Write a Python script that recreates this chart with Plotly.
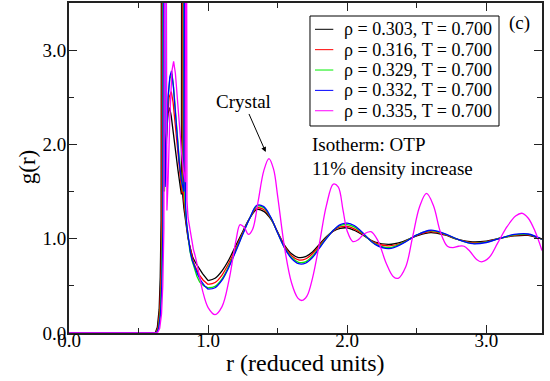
import plotly.graph_objects as go

# ---------------- data ----------------
labels = ["ρ = 0.303, T = 0.700", "ρ = 0.316, T = 0.700", "ρ = 0.329, T = 0.700",
          "ρ = 0.332, T = 0.700", "ρ = 0.335, T = 0.700"]
colors = ["#000000", "#ff0000", "#00ee00", "#0000ff", "#ff00ff"]

# short-range part (intramolecular spikes), drawn with straight segments
r_near_303 = [0.0, 0.62, 0.635, 0.648, 0.656, 0.662, 0.667, 0.675, 0.685, 0.70, 0.712, 0.723, 0.735, 0.75,
              0.765, 0.783, 0.80, 0.808, 0.812, 0.818, 0.826, 0.84, 0.855, 0.87, 0.89, 0.91, 0.93, 0.96, 1.0]
g_near_303 = [0, 0, 0.06, 0.25, 0.6, 1.2, 8, 1.6, 1.75, 2.15, 2.33, 2.39, 2.3, 2.12,
              1.92, 1.73, 1.55, 1.47, 8, 1.45, 1.32, 1.15, 1.01, 0.91, 0.80, 0.745, 0.70, 0.63, 0.555]

r_near_316 = [0.0, 0.625, 0.64, 0.653, 0.661, 0.667, 0.673, 0.68, 0.69, 0.705, 0.72, 0.735, 0.748, 0.76,
              0.775, 0.79, 0.805, 0.814, 0.819, 0.825, 0.834, 0.848, 0.862, 0.877, 0.895, 0.915, 0.935, 0.965, 1.0]
g_near_316 = [0, 0, 0.06, 0.25, 0.6, 1.2, 8, 1.5, 1.75, 2.25, 2.5, 2.56, 2.45, 2.25,
              2.0, 1.78, 1.58, 1.48, 8, 1.42, 1.28, 1.10, 0.96, 0.85, 0.75, 0.68, 0.62, 0.56, 0.515]

r_near_329 = [0.0, 0.628, 0.643, 0.656, 0.665, 0.672, 0.679, 0.686, 0.696, 0.71, 0.725, 0.74, 0.752, 0.765,
              0.78, 0.795, 0.81, 0.821, 0.827, 0.833, 0.841, 0.854, 0.868, 0.882, 0.9, 0.92, 0.94, 0.97, 1.0]
g_near_329 = [0, 0, 0.05, 0.22, 0.55, 1.15, 8, 1.5, 1.9, 2.45, 2.7, 2.75, 2.6, 2.35,
              2.05, 1.8, 1.6, 1.5, 8, 1.4, 1.22, 1.02, 0.88, 0.78, 0.68, 0.6, 0.54, 0.5, 0.48]

r_near_332 = [0.0, 0.63, 0.645, 0.658, 0.667, 0.675, 0.684, 0.691, 0.70, 0.712, 0.725, 0.737, 0.75, 0.762,
              0.777, 0.792, 0.808, 0.826, 0.832, 0.838, 0.846, 0.86, 0.872, 0.886, 0.903, 0.925, 0.95, 0.975, 1.0]
g_near_332 = [0, 0, 0.05, 0.2, 0.5, 1.1, 8, 1.55, 2.0, 2.5, 2.72, 2.78, 2.62, 2.38,
              2.08, 1.82, 1.62, 1.5, 8, 1.35, 1.15, 0.96, 0.86, 0.77, 0.70, 0.62, 0.55, 0.50, 0.465]

r_near_335 = [0.0, 0.635, 0.652, 0.665, 0.674, 0.682, 0.693, 0.704, 0.712, 0.725, 0.74, 0.752, 0.765, 0.78,
              0.795, 0.81, 0.825, 0.836, 0.842, 0.848, 0.856, 0.868, 0.88, 0.895]
g_near_335 = [0, 0, 0.05, 0.2, 0.5, 1.1, 8, 1.3, 1.6, 2.3, 2.78, 2.88, 2.75, 2.45,
              2.15, 1.9, 1.7, 1.6, 8, 1.4, 1.22, 1.12, 1.0, 0.88]

# longer-range part (smooth oscillations)
r_liquid = [1.0, 1.05, 1.1, 1.15, 1.2, 1.25, 1.3, 1.35, 1.4, 1.45, 1.5, 1.55, 1.6, 1.65, 1.7, 1.75,
            1.8, 1.85, 1.9, 1.95, 2.0, 2.05, 2.1, 2.2, 2.3, 2.4, 2.5, 2.6, 2.7, 2.8, 2.9, 3.0,
            3.1, 3.2, 3.3, 3.4]
g_far_303 = [0.555, 0.58, 0.66, 0.78, 0.93, 1.08, 1.22, 1.31, 1.29, 1.21, 1.07, 0.93, 0.84, 0.80, 0.81, 0.86,
             0.94, 1.02, 1.08, 1.11, 1.115, 1.09, 1.05, 0.965, 0.94, 0.97, 1.03, 1.065, 1.04, 0.99, 0.967, 0.975,
             1.005, 1.03, 1.035, 0.996]
g_far_316 = [0.515, 0.535, 0.615, 0.745, 0.90, 1.065, 1.22, 1.325, 1.31, 1.22, 1.065, 0.92, 0.82, 0.775, 0.785, 0.84,
             0.925, 1.01, 1.085, 1.125, 1.13, 1.105, 1.06, 0.955, 0.925, 0.96, 1.035, 1.075, 1.045, 0.99, 0.958, 0.97,
             1.005, 1.035, 1.04, 0.996]
g_far_329 = [0.48, 0.495, 0.575, 0.715, 0.88, 1.055, 1.22, 1.345, 1.33, 1.225, 1.06, 0.905, 0.80, 0.75, 0.755, 0.815,
             0.91, 1.005, 1.09, 1.14, 1.15, 1.125, 1.07, 0.945, 0.905, 0.955, 1.04, 1.085, 1.05, 0.99, 0.95, 0.965,
             1.005, 1.04, 1.045, 0.995]
g_far_332 = [0.465, 0.48, 0.56, 0.70, 0.87, 1.05, 1.22, 1.355, 1.34, 1.23, 1.06, 0.90, 0.79, 0.735, 0.74, 0.80,
             0.90, 1.00, 1.09, 1.15, 1.165, 1.14, 1.08, 0.94, 0.895, 0.95, 1.04, 1.09, 1.055, 0.99, 0.947, 0.96,
             1.005, 1.045, 1.05, 0.995]

r_crystal = [0.895, 0.91, 0.93, 0.96, 1.0, 1.05, 1.1, 1.15, 1.2, 1.23, 1.26, 1.29, 1.32, 1.36, 1.40, 1.437,
             1.47, 1.50, 1.55, 1.60, 1.645, 1.675, 1.71, 1.75, 1.80, 1.85, 1.90, 1.935, 1.97, 2.00, 2.04,
             2.08, 2.12, 2.17, 2.22, 2.28, 2.33, 2.366, 2.42, 2.47, 2.52, 2.57, 2.62, 2.67, 2.72, 2.76,
             2.80, 2.84, 2.88, 2.93, 2.965, 3.02, 3.08, 3.15, 3.21, 3.255, 3.30, 3.35, 3.40]
g_far_335 = [0.88, 0.80, 0.66, 0.45, 0.27, 0.195, 0.28, 0.56, 0.98, 1.15, 1.12, 1.045, 1.10, 1.40, 1.72, 1.85,
             1.74, 1.45, 0.90, 0.53, 0.37, 0.345, 0.39, 0.58, 0.95, 1.35, 1.58, 1.55, 1.30, 1.08, 0.97,
             0.99, 1.05, 1.075, 0.98, 0.74, 0.60, 0.58, 0.70, 1.02, 1.34, 1.48, 1.35, 1.07, 0.92, 0.905,
             0.92, 0.92, 0.87, 0.78, 0.755, 0.80, 0.95, 1.13, 1.24, 1.27, 1.22, 1.08, 0.875]

near_r = [r_near_303, r_near_316, r_near_329, r_near_332, r_near_335]
near_g = [g_near_303, g_near_316, g_near_329, g_near_332, g_near_335]
far_r = [r_liquid, r_liquid, r_liquid, r_liquid, r_crystal]
far_g = [g_far_303, g_far_316, g_far_329, g_far_332, g_far_335]

# ---------------- figure ----------------
FONT = "Liberation Serif"
fig = go.Figure()
for i in range(5):
    fig.add_trace(go.Scatter(x=near_r[i], y=near_g[i], mode="lines", name=labels[i], legendgroup=str(i),
                             showlegend=False, line=dict(color=colors[i], width=1.3), hoverinfo="skip"))
    fig.add_trace(go.Scatter(x=far_r[i], y=far_g[i], mode="lines", name=labels[i], legendgroup=str(i),
                             showlegend=False,
                             line=dict(color=colors[i], width=1.3, shape="spline", smoothing=1.0)))

axis_common = dict(showline=True, linewidth=2, linecolor="#222", mirror="ticks", ticks="inside",
                   ticklen=8, tickwidth=1, tickcolor="#222", showgrid=False, zeroline=False,
                   automargin=False,
                   tickformat=".1f", tickfont=dict(size=19, family=FONT, color="black"))
fig.update_xaxes(range=[0, 3.4], tick0=0, dtick=1, ticklabelstandoff=-11,
                 minor=dict(ticks="inside", ticklen=5, dtick=0.5, tick0=0, tickcolor="#222", showgrid=False),
                 **axis_common)
fig.update_yaxes(range=[0, 3.5], tick0=0, dtick=1, ticklabelstandoff=-3,
                 minor=dict(ticks="inside", ticklen=5, dtick=0.5, tick0=0, tickcolor="#222", showgrid=False),
                 **axis_common)

annotations = [
    dict(text="r (reduced units)", x=0.5, y=-0.09, xref="paper", yref="paper", showarrow=False,
         xanchor="center", yanchor="middle", font=dict(size=24, family=FONT)),
    dict(text="g(r)", x=-0.089, y=0.502, xref="paper", yref="paper", showarrow=False, textangle=-90,
         xanchor="center", yanchor="middle", font=dict(size=23, family=FONT)),
    dict(text="(c)", x=0.953, y=0.939, xref="paper", yref="paper", showarrow=False,
         xanchor="center", yanchor="middle", font=dict(size=19, family=FONT)),
    dict(text="Isotherm: OTP", x=0.509, y=0.57, xref="paper", yref="paper", showarrow=False,
         xanchor="left", yanchor="middle", font=dict(size=19, family=FONT)),
    dict(text="11% density increase", x=0.509, y=0.497, xref="paper", yref="paper", showarrow=False,
         xanchor="left", yanchor="middle", font=dict(size=19, family=FONT)),
    dict(text="Crystal", x=1.414, y=1.92, xref="x", yref="y", showarrow=True, ax=-22, ay=-50,
         arrowhead=2, arrowsize=1, arrowwidth=1, arrowcolor="black", font=dict(size=19, family=FONT)),
]

# hand-drawn legend box (tight line spacing as in the reference)
shapes = [dict(type="rect", xref="paper", yref="paper", x0=0.5095, x1=0.9091, y0=0.6273, y1=0.9606,
               line=dict(color="black", width=1), fillcolor="white", layer="above")]
row_top, row_step = 0.9203, 0.0617
for i in range(5):
    yy = row_top - i * row_step
    shapes.append(dict(type="line", xref="paper", yref="paper", x0=0.5201, x1=0.5588, y0=yy, y1=yy,
                       line=dict(color=colors[i], width=1), layer="above"))
    annotations.append(dict(text=labels[i], x=0.578, y=yy, xref="paper", yref="paper", showarrow=False,
                            xanchor="left", yanchor="middle", font=dict(size=18, family=FONT)))

fig.update_layout(
    width=550, height=381, margin=dict(l=69, r=8, t=3, b=48, autoexpand=False),
    paper_bgcolor="white", plot_bgcolor="white", showlegend=False,
    font=dict(family=FONT, color="black"),
    annotations=annotations, shapes=shapes,
)

fig.write_html("out.html")
